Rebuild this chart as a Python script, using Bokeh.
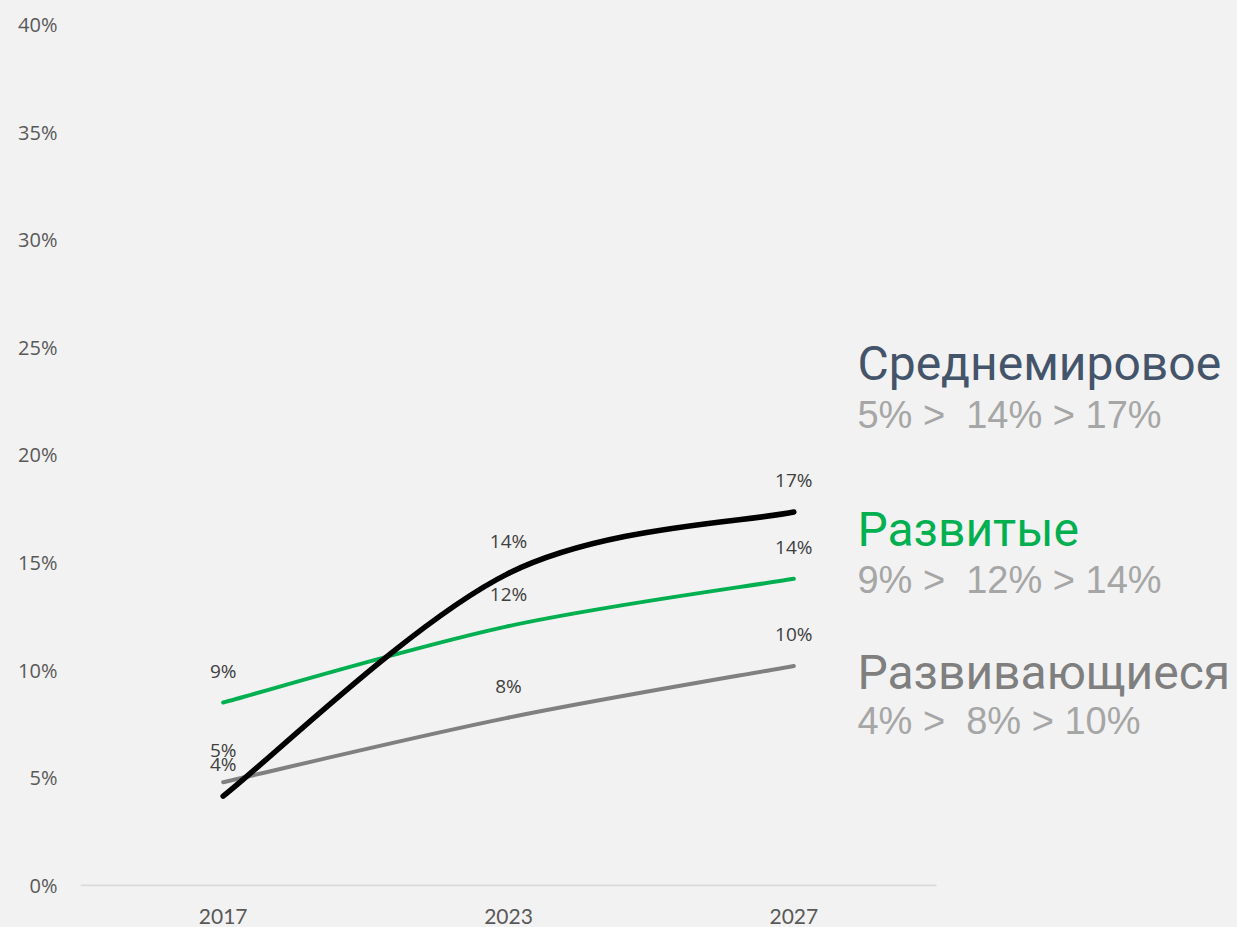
from bokeh.plotting import figure
from bokeh.models import Range1d, FixedTicker, Label
from bokeh.core.properties import value
from bokeh.embed import file_html
from bokeh.resources import INLINE

# ---- data ----
years = ["2017", "2023", "2027"]
x_pos = [0, 1, 2]
world = [4.15, 14.5, 17.35]
developed = [8.5, 12.05, 14.25]
developing = [4.8, 7.8, 10.2]
world_labels = ["4%", "14%", "17%"]
developed_labels = ["9%", "12%", "14%"]
developing_labels = ["5%", "8%", "10%"]
y_ticks = [0, 5, 10, 15, 20, 25, 30, 35, 40]

legend_names = ["Среднемировое", "Развитые", "Развивающиеся"]
legend_values = ["5% >\u00a0 14% > 17%", "9% >\u00a0 12% > 14%", "4% >\u00a0 8% > 10%"]

BG = "#F2F2F2"
BLACK = "#000000"
GREEN = "#00B050"
GRAY = "#808080"
NAME_COLORS = ["#44546A", GREEN, "#7F7F7F"]

W, H = 1237, 927
p = figure(width=W, height=H, output_backend="svg", toolbar_location=None,
           x_range=Range1d(-0.5, 3.555), y_range=Range1d(-0.0465, 40),
           min_border_left=80, min_border_right=0, min_border_top=24,
           min_border_bottom=41)
p.background_fill_color = BG
p.border_fill_color = BG
p.outline_line_color = None
p.xgrid.visible = False
p.ygrid.visible = False

# axes
p.yaxis.ticker = FixedTicker(ticks=y_ticks)
p.yaxis.major_label_overrides = {t: f"{t}%" for t in y_ticks}
p.yaxis.axis_line_color = None
p.yaxis.major_tick_line_color = None
p.yaxis.minor_tick_line_color = None
p.yaxis.major_label_standoff = 17
p.yaxis.major_label_text_font = "Open Sans"
p.yaxis.major_label_text_font_size = "20px"
p.yaxis.major_label_text_color = "#595959"

p.xaxis.ticker = FixedTicker(ticks=x_pos)
p.xaxis.major_label_overrides = {x: y for x, y in zip(x_pos, years)}
p.xaxis.axis_line_color = None
p.xaxis.major_tick_line_color = None
p.xaxis.minor_tick_line_color = None
p.xaxis.major_label_standoff = 16
p.xaxis.major_label_text_font = "Lato"
p.xaxis.major_label_text_font_size = "21px"
p.xaxis.major_label_text_color = "#595959"

# category axis baseline (spans the category area only)
p.segment(x0=[-0.5], y0=[0], x1=[2.5], y1=[0], line_color="#D9D9D9", line_width=2)


def smooth(xs, ys, color, width):
    # Excel-like smoothed line: cubic Bezier per segment
    n = len(xs)
    x0, y0, x1, y1, cx0, cy0, cx1, cy1 = [], [], [], [], [], [], [], []
    for i in range(n - 1):
        xp, yp = (xs[i - 1], ys[i - 1]) if i > 0 else (xs[i], ys[i])
        xn, yn = (xs[i + 2], ys[i + 2]) if i + 2 < n else (xs[i + 1], ys[i + 1])
        x0.append(xs[i]); y0.append(ys[i])
        x1.append(xs[i + 1]); y1.append(ys[i + 1])
        cx0.append(xs[i] + (xs[i + 1] - xp) / 6); cy0.append(ys[i] + (ys[i + 1] - yp) / 6)
        cx1.append(xs[i + 1] - (xn - xs[i]) / 6); cy1.append(ys[i + 1] - (yn - ys[i]) / 6)
    p.bezier(x0=x0, y0=y0, x1=x1, y1=y1, cx0=cx0, cy0=cy0, cx1=cx1, cy1=cy1,
             line_color=color, line_width=width, line_cap="round")


smooth(x_pos, developing, GRAY, 4)
smooth(x_pos, developed, GREEN, 4)
smooth(x_pos, world, BLACK, 5.5)

for vals, labs in [(developing, developing_labels), (developed, developed_labels), (world, world_labels)]:
    p.text(x=x_pos, y=vals, text=labs, y_offset=-32, text_align="center",
           text_baseline="middle", text_font=value("Open Sans"),
           text_font_size="19px", text_color="#404040")

# right-hand legend text
name_y = [24.23, 16.56, 9.9]
val_y = [21.88, 14.21, 7.62]
lx = 2.223
for name, vals, c, ny, vy in zip(legend_names, legend_values, NAME_COLORS, name_y, val_y):
    p.add_layout(Label(x=lx, y=ny, text=name, text_color=c, text_font="Roboto",
                       text_font_size="48px", text_baseline="alphabetic", text_align="left"))
    p.add_layout(Label(x=lx, y=vy, text=vals, text_color="#A6A6A6", text_font="Liberation Sans",
                       text_font_size="38px", text_baseline="alphabetic", text_align="left"))

html = file_html(p, INLINE)
html = html.replace("<body>", '<body style="background-color:#F2F2F2;">')
open("out.html", "w").write(html)
